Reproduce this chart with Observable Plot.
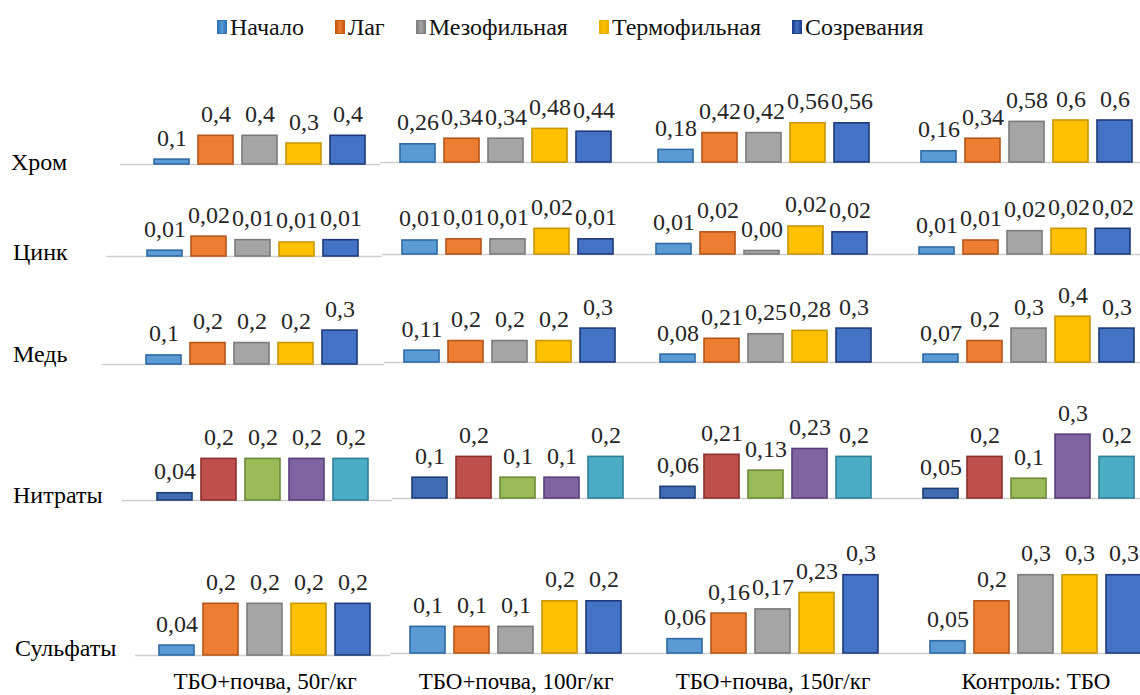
<!DOCTYPE html>
<html><head><meta charset="utf-8">
<script src="https://cdn.jsdelivr.net/npm/d3@7"></script>
<script src="https://cdn.jsdelivr.net/npm/@observablehq/plot@0.6"></script>
<style>
body{margin:0;background:#fff;font-family:"Times New Roman";}
#root{position:relative;width:1140px;height:695px;overflow:hidden;background:#fff;color:#000;font-family:"Times New Roman";}
#root text{font-family:"Times New Roman";}
.cell{position:absolute;}
.legend{position:absolute;left:217px;top:12px;display:flex;align-items:center;font-size:24px;line-height:30px;color:#111;}
.legend .item{display:flex;align-items:center;margin-right:31px;}
.legend .sw{width:10px;height:14px;margin-right:3px;box-sizing:border-box;}
</style></head>
<body><div id="root"></div>
<script>
const groups = ["ТБО+почва, 50г/кг", "ТБО+почва, 100г/кг", "ТБО+почва, 150г/кг", "Контроль: ТБО"];
const series = ["Начало", "Лаг", "Мезофильная", "Термофильная", "Созревания"];
const rowNames = ["Хром", "Цинк", "Медь", "Нитраты", "Сульфаты"];

const chromValues = [[0.07,0.41,0.41,0.30,0.41],[0.26,0.34,0.34,0.48,0.44],[0.18,0.42,0.42,0.56,0.56],[0.16,0.34,0.58,0.60,0.60]];
const chromLabels = [["0,1","0,4","0,4","0,3","0,4"],["0,26","0,34","0,34","0,48","0,44"],["0,18","0,42","0,42","0,56","0,56"],["0,16","0,34","0,58","0,6","0,6"]];
const zincValues = [[0.005,0.017,0.014,0.012,0.014],[0.012,0.013,0.013,0.022,0.013],[0.009,0.019,0.003,0.024,0.019],[0.006,0.012,0.020,0.022,0.022]];
const zincLabels = [["0,01","0,02","0,01","0,01","0,01"],["0,01","0,01","0,01","0,02","0,01"],["0,01","0,02","0,00","0,02","0,02"],["0,01","0,01","0,02","0,02","0,02"]];
const copperValues = [[0.08,0.19,0.19,0.19,0.30],[0.105,0.19,0.19,0.19,0.30],[0.07,0.21,0.25,0.28,0.30],[0.07,0.19,0.30,0.405,0.30]];
const copperLabels = [["0,1","0,2","0,2","0,2","0,3"],["0,11","0,2","0,2","0,2","0,3"],["0,08","0,21","0,25","0,28","0,3"],["0,07","0,2","0,3","0,4","0,3"]];
const nitrateValues = [[0.035,0.2,0.2,0.2,0.2],[0.1,0.2,0.1,0.1,0.2],[0.056,0.21,0.134,0.238,0.2],[0.046,0.2,0.095,0.307,0.2]];
const nitrateLabels = [["0,04","0,2","0,2","0,2","0,2"],["0,1","0,2","0,1","0,1","0,2"],["0,06","0,21","0,13","0,23","0,2"],["0,05","0,2","0,1","0,3","0,2"]];
const sulfateValues = [[0.038,0.198,0.198,0.198,0.198],[0.102,0.102,0.102,0.2,0.2],[0.055,0.153,0.169,0.232,0.3],[0.047,0.2,0.3,0.3,0.3]];
const sulfateLabels = [["0,04","0,2","0,2","0,2","0,2"],["0,1","0,1","0,1","0,2","0,2"],["0,06","0,16","0,17","0,23","0,3"],["0,05","0,2","0,3","0,3","0,3"]];

// styles
const palA = {fill:["#5b9bd5","#ed7d31","#a5a5a5","#ffc000","#4472c4"], stroke:["#2f6aa3","#b5561a","#7b7b7b","#c99700","#1f3a7a"]};
const palB = {fill:["#3f6cb2","#c0504d","#9bbb59","#8064a2","#4bacc6"], stroke:["#1f3d73","#8b2f2c","#6c8a37","#583f7a","#2f7f95"]};
const legendSw = ["#2e75b6","#c55a11","#7f7f7f","#e8b000","#203f8f"];
const FONT = "Times New Roman";

const rowsData = [
  {values: chromValues, labels: chromLabels},
  {values: zincValues, labels: zincLabels},
  {values: copperValues, labels: copperLabels},
  {values: nitrateValues, labels: nitrateLabels},
  {values: sulfateValues, labels: sulfateLabels}
];
// layout per row
const layout = [
  {ppu:70,   max:0.7,  base:[164,162,162,162], starts:[154,400,658,921], lineStart:120, labelY:170, labelX:11, pal:palA},
  {ppu:1167, max:0.03, base:[256,254,254,254], starts:[147,402,656,919], lineStart:106, labelY:260, labelX:13, pal:palA},
  {ppu:113,  max:0.5,  base:[364,362,362,362], starts:[146,404,660,923], lineStart:102, labelY:362, labelX:13, pal:palA},
  {ppu:208,  max:0.4,  base:[500,498,498,498], starts:[157,412,660,923], lineStart:122, labelY:503, labelX:13, pal:palB, top:396},
  {ppu:261,  max:0.4,  base:[655,653,653,653], starts:[159,410,667,930], lineStart:135, labelY:656, labelX:15, pal:palA}
];

const root = document.getElementById("root");

// legend
const leg = document.createElement("div");
leg.className = "legend";
series.forEach((s, i) => {
  const it = document.createElement("div"); it.className = "item";
  const sw = document.createElement("div"); sw.className = "sw";
  sw.style.background = `linear-gradient(90deg, ${legendSw[i]}, ${palA.fill[i]} 50%, ${legendSw[i]})`;
  sw.style.border = `1px solid ${legendSw[i]}`;
  const t = document.createElement("span"); t.textContent = s;
  it.appendChild(sw); it.appendChild(t); leg.appendChild(it);
});
root.appendChild(leg);

// row labels
const ov = d3.create("svg").attr("width", 1140).attr("height", 695)
  .style("position", "absolute").style("left", 0).style("top", 0);
rowNames.forEach((n, r) => {
  ov.append("text").attr("x", layout[r].labelX).attr("y", layout[r].labelY)
    .attr("font-family", FONT).attr("font-size", 24).attr("fill", "#000").text(n);
});
root.appendChild(ov.node());

function cell(r, c) {
  const L = layout[r], D = rowsData[r];
  const base = L.base[c];
  const left = c === 0 ? L.lineStart : L.starts[c] - 20;
  const right = c === 3 ? 1140 : L.starts[c + 1] - 20;
  const top = L.top ?? base - 135;
  const bottom = r === 4 ? 695 : base + 4;
  const W = right - left, H = bottom - top;
  const yb = base - top;
  const x0 = L.starts[c] - left - 4.4;
  const data = series.map((s, i) => ({series: s, value: D.values[c][i], label: D.labels[c][i]}));
  const idx = d => series.indexOf(d.series);
  const marks = [
    Plot.ruleY([0], {stroke: "#cfcfcf", strokeWidth: 1.5}),
    Plot.barY(data, {x: "series", y: "value", fill: d => L.pal.fill[idx(d)], stroke: d => L.pal.stroke[idx(d)], strokeWidth: 1.6}),
    Plot.text(data, {x: "series", y: "value", text: "label", dy: -14, lineAnchor: "bottom", fontSize: 24, fontFamily: FONT, fill: "#262626"})
  ];
  if (r === 4) {
    marks.push(Plot.text([groups[c]], {x: () => "Мезофильная", text: d => d, frameAnchor: "bottom", lineAnchor: "bottom", dy: -7, fontSize: 23, fontFamily: FONT, fill: "#000"}));
  }
  const p = Plot.plot({
    width: W, height: H,
    marginLeft: 0, marginRight: 0, marginTop: 0, marginBottom: 0,
    style: {background: "transparent", overflow: "hidden", fontFamily: FONT},
    x: {domain: series, range: [x0, x0 + 220], paddingInner: 0.2, paddingOuter: 0.1, axis: null},
    y: {domain: [0, L.max], range: [yb, yb - L.max * L.ppu], axis: null},
    color: {type: "identity"},
    marks
  });
  p.classList.add("cell");
  p.style.left = left + "px";
  p.style.top = top + "px";
  p.style.maxWidth = "none";
  root.appendChild(p);
}
for (let r = 0; r < 5; r++) for (let c = 0; c < 4; c++) cell(r, c);
</script>
</body></html>
